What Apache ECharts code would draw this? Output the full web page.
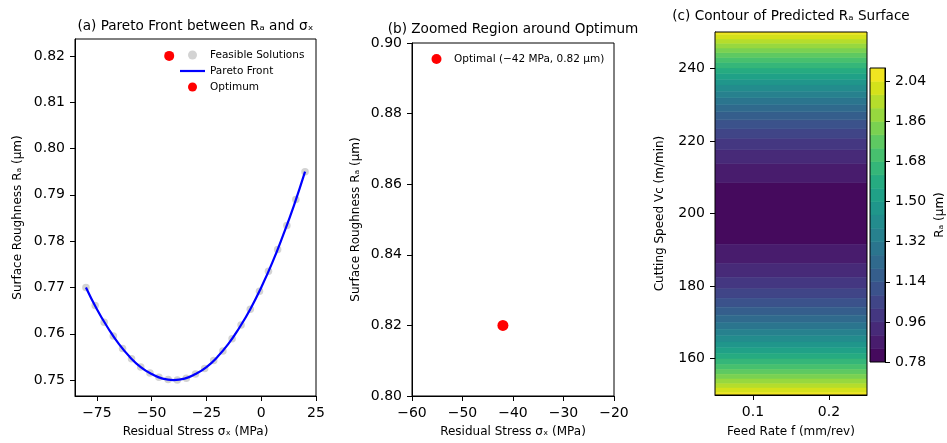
<!DOCTYPE html>
<html>
<head>
<meta charset="utf-8">
<title>Pareto front and predicted Ra surface</title>
<script src="https://cdn.jsdelivr.net/npm/echarts@6/dist/echarts.min.js"></script>
<style>
  html, body { margin: 0; padding: 0; background: #fff; }
  #chart { width: 947px; height: 443px; }
</style>
</head>
<body>
<div id="chart"></div>
<script>
// (a) feasible solutions
const feasibleStress = [-80, -75.8, -71.7, -67.5, -63.3, -59.2, -55, -50.8, -46.7, -42.5, -38.3, -34.2, -30,
  -25.8, -21.7, -17.5, -13.3, -9.2, -5, -0.8, 3.3, 7.5, 11.7, 15.8, 20];
const feasibleRa = [0.7700, 0.7661, 0.7625, 0.7595, 0.7568, 0.7546, 0.7528, 0.7515, 0.7506, 0.7501, 0.7500, 0.7504, 0.7513,
  0.7525, 0.7542, 0.7563, 0.7589, 0.7619, 0.7653, 0.7692, 0.7735, 0.7782, 0.7834, 0.7890, 0.7950];

// pareto front curve
const paretoStress = [-80, -75, -70, -65, -60, -55, -50, -45, -40, -35, -30, -25, -20, -15, -10, -5, 0, 5, 10, 15, 20];
const paretoRa = [0.7700, 0.7653, 0.7613, 0.7578, 0.7550, 0.7528, 0.7513, 0.7503, 0.7500, 0.7503, 0.7513, 0.7528,
  0.7550, 0.7578, 0.7613, 0.7653, 0.7700, 0.7753, 0.7813, 0.7878, 0.7950];

// optimum (MPa, µm)
const optimumStress = -42;
const optimumRa = 0.82;

// tick labels
const stressTicksA = [-75, -50, -25, 0, 25];
const raTicksA = [0.75, 0.76, 0.77, 0.78, 0.79, 0.80, 0.81, 0.82];
const stressTicksB = [-60, -50, -40, -30, -20];
const raTicksB = [0.80, 0.82, 0.84, 0.86, 0.88, 0.90];
const feedTicks = [0.1, 0.2];
const speedTicks = [160, 180, 200, 220, 240];
const colorbarTicks = [0.78, 0.96, 1.14, 1.32, 1.50, 1.68, 1.86, 2.04];

// (c) contour levels and where each level (from 0.84 up) crosses the Vc axis
const raLevels = [0.78, 0.84, 0.90, 0.96, 1.02, 1.08, 1.14, 1.20, 1.26, 1.32, 1.38, 1.44,
  1.50, 1.56, 1.62, 1.68, 1.74, 1.80, 1.86, 1.92, 1.98, 2.04, 2.10];
const vcCrossUpper = [208.5, 213.8, 217.6, 220.7, 223.4, 225.8, 228.0, 230.0, 231.9, 233.7, 235.4,
  237.0, 238.6, 240.1, 241.6, 243.0, 244.3, 245.6, 246.9, 248.1, 249.4, 250.6];
const vcCrossLower = [191.5, 186.2, 182.4, 179.3, 176.6, 174.2, 172.0, 170.0, 168.1, 166.3, 164.6,
  163.0, 161.4, 159.9, 158.4, 157.0, 155.7, 154.4, 153.1, 151.9, 150.6, 149.4];
const feedRange = [0.05, 0.25];
const speedRange = [150, 250];

const FONT = 'DejaVu Sans';

// viridis stops, interpolated for the band colours
const viridisStops = ['#440154', '#481a6c', '#472d7b', '#424086', '#3b528b', '#33638d', '#2c728e', '#26828e',
  '#21918c', '#1fa088', '#28ae80', '#3fbc73', '#5ec962', '#84d44b', '#addc30', '#d8e219', '#fde725'];
function hexRgb(h) {
  return [1, 3, 5].map((i) => parseInt(h.slice(i, i + 2), 16));
}
function viridis(t) {
  const pos = Math.min(Math.max(t, 0), 1) * (viridisStops.length - 1);
  const i = Math.min(Math.floor(pos), viridisStops.length - 2);
  const f = pos - i;
  const a = hexRgb(viridisStops[i]);
  const b = hexRgb(viridisStops[i + 1]);
  const c = a.map((v, k) => Math.round(v + (b[k] - v) * f));
  return 'rgb(' + c.join(',') + ')';
}
const nBands = raLevels.length - 1;
const bandColors = raLevels.slice(0, -1).map((_, k) => viridis((k + 0.5) / nBands));

// band rows: [vcFrom, vcTo, bandIndex]
const contourRows = [[vcCrossLower[0], vcCrossUpper[0], 0]];
for (let k = 1; k < nBands; k++) {
  contourRows.push([vcCrossUpper[k - 1], vcCrossUpper[k], k]);
  contourRows.push([vcCrossLower[k], vcCrossLower[k - 1], k]);
}
const colorbarRows = raLevels.slice(0, -1).map((lv, k) => [lv, raLevels[k + 1], k]);

const minus = (v) => String(v).replace('-', '\u2212');
const fixed2 = (v) => v.toFixed(2);

function valueAxis(grid, min, max, ticks, fmt, extra) {
  return Object.assign({
    type: 'value',
    gridIndex: grid,
    min: min,
    max: max,
    axisLine: { show: true, onZero: false, lineStyle: { color: '#000', width: 1 } },
    axisTick: { show: true, customValues: ticks, length: 5, lineStyle: { color: '#000' } },
    axisLabel: { show: true, customValues: ticks, formatter: fmt, color: '#000', fontSize: 14, fontFamily: FONT, margin: 10 },
    splitLine: { show: false },
    nameLocation: 'middle',
    nameTextStyle: { color: '#000', fontSize: 12, fontFamily: FONT }
  }, extra);
}

const chart = echarts.init(document.getElementById('chart'));

const gridBase = { show: true, borderColor: '#000', borderWidth: 1, backgroundColor: 'transparent', z: 5 };
const titleText = { fontSize: 13.6, fontWeight: 'normal', color: '#000', fontFamily: FONT };
const legendText = { fontSize: 10.5, lineHeight: 16, color: '#000', fontFamily: FONT };

chart.setOption({
  animation: false,
  backgroundColor: '#fff',
  title: [
    { text: '(a) Pareto Front between R\u2090 and \u03c3\u2093', left: 195.5, top: 19.5, textAlign: 'center', padding: 0, textStyle: titleText },
    { text: '(b) Zoomed Region around Optimum', left: 513, top: 22.5, textAlign: 'center', padding: 0, textStyle: titleText },
    { text: '(c) Contour of Predicted R\u2090 Surface', left: 791, top: 9.5, textAlign: 'center', padding: 0, textStyle: titleText }
  ],
  legend: [
    {
      data: [
        { name: 'Feasible Solutions', icon: 'circle' },
        { name: 'Pareto Front', icon: 'path://M0,0 H25 V2.2 H0 Z' },
        { name: 'Optimum', icon: 'circle' }
      ],
      orient: 'vertical', left: 180, top: 47, padding: 0, itemGap: 0,
      itemWidth: 25, itemHeight: 9, selectedMode: false, textStyle: legendText
    },
    {
      data: [{ name: 'Optimal (\u221242 MPa, 0.82 \u03bcm)', icon: 'circle' }],
      orient: 'vertical', left: 431.5, top: 51, padding: 0,
      itemWidth: 25, itemHeight: 10, selectedMode: false, textStyle: legendText
    }
  ],
  grid: [
    Object.assign({ left: 75, top: 39, width: 241, height: 359 }, gridBase),
    Object.assign({ left: 412, top: 43, width: 202, height: 355 }, gridBase),
    Object.assign({ left: 715, top: 32, width: 152, height: 366 }, gridBase),
    Object.assign({ left: 870, top: 68, width: 15, height: 294 }, gridBase)
  ],
  xAxis: [
    valueAxis(0, -85, 25, stressTicksA, minus, { name: 'Residual Stress \u03c3\u2093 (MPa)', nameGap: 30 }),
    valueAxis(1, -60, -20, stressTicksB, minus, { name: 'Residual Stress \u03c3\u2093 (MPa)', nameGap: 30 }),
    valueAxis(2, feedRange[0], feedRange[1], feedTicks, (v) => String(v), { name: 'Feed Rate f (mm/rev)', nameGap: 31 }),
    { type: 'value', gridIndex: 3, min: 0, max: 1, show: false }
  ],
  yAxis: [
    valueAxis(0, 0.74656, 0.82365, raTicksA, fixed2, { name: 'Surface Roughness R\u2090 (\u03bcm)', nameGap: 51 }),
    valueAxis(1, 0.80, 0.90, raTicksB, fixed2, { name: 'Surface Roughness R\u2090 (\u03bcm)', nameGap: 50 }),
    valueAxis(2, speedRange[0], speedRange[1], speedTicks, (v) => String(v), { name: 'Cutting Speed Vc (m/min)', nameGap: 49 }),
    valueAxis(3, raLevels[0], raLevels[raLevels.length - 1], colorbarTicks, fixed2,
      { position: 'right', name: 'R\u2090 (\u03bcm)', nameGap: 49, nameRotate: 90 })
  ],
  series: [
    {
      name: 'Feasible Solutions', type: 'scatter', xAxisIndex: 0, yAxisIndex: 0,
      data: feasibleStress.map((s, i) => [s, feasibleRa[i]]),
      symbolSize: 7.5, itemStyle: { color: '#d3d3d3', opacity: 1 }, z: 2
    },
    {
      name: 'Pareto Front', type: 'line', xAxisIndex: 0, yAxisIndex: 0,
      data: paretoStress.map((s, i) => [s, paretoRa[i]]),
      smooth: true, symbol: 'none', lineStyle: { color: '#0000ff', width: 2.2 }, itemStyle: { color: '#0000ff' }, z: 3
    },
    {
      name: 'Optimum', type: 'scatter', xAxisIndex: 0, yAxisIndex: 0,
      data: [[optimumStress, optimumRa]],
      symbolSize: 10, itemStyle: { color: '#ff0000', opacity: 1 }, z: 4
    },
    {
      name: 'Optimal (\u221242 MPa, 0.82 \u03bcm)', type: 'scatter', xAxisIndex: 1, yAxisIndex: 1,
      data: [[optimumStress, optimumRa]],
      symbolSize: 11, itemStyle: { color: '#ff0000', opacity: 1 }, z: 4
    },
    {
      type: 'custom', xAxisIndex: 2, yAxisIndex: 2, clip: true, silent: true,
      data: contourRows,
      encode: { y: [0, 1] },
      renderItem: (params, api) => {
        const tl = api.coord([feedRange[0], api.value(1)]);
        const br = api.coord([feedRange[1], api.value(0)]);
        const c = bandColors[api.value(2)];
        return {
          type: 'rect',
          shape: { x: tl[0], y: tl[1], width: br[0] - tl[0], height: br[1] - tl[1] },
          style: { fill: c, stroke: c, lineWidth: 0.6 }
        };
      }
    },
    {
      type: 'custom', xAxisIndex: 3, yAxisIndex: 3, clip: true, silent: true,
      data: colorbarRows,
      encode: { y: [0, 1] },
      renderItem: (params, api) => {
        const tl = api.coord([0, api.value(1)]);
        const br = api.coord([1, api.value(0)]);
        const c = bandColors[api.value(2)];
        return {
          type: 'rect',
          shape: { x: tl[0], y: tl[1], width: br[0] - tl[0], height: br[1] - tl[1] },
          style: { fill: c, stroke: c, lineWidth: 0.6 }
        };
      }
    }
  ]
});

window.addEventListener('resize', () => chart.resize());
</script>
</body>
</html>
